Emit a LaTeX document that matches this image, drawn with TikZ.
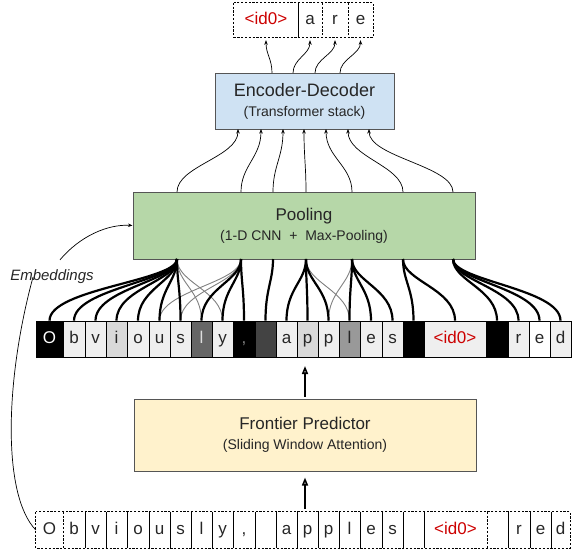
\documentclass[tikz,border=0pt]{standalone}
\usepackage{fontspec}
\setmainfont{Liberation Sans}
\usetikzlibrary{arrows.meta,calc}
\definecolor{edfill}{HTML}{CFE2F3}
\definecolor{poolfill}{HTML}{B6D7A8}
\definecolor{fpfill}{HTML}{FFF2CC}
\definecolor{idred}{HTML}{CC0000}
\definecolor{lightc}{HTML}{EFEFEF}
\definecolor{midc}{HTML}{D9D9D9}
\definecolor{darkone}{HTML}{666666}
\definecolor{darktwo}{HTML}{434343}
\definecolor{midtwo}{HTML}{999999}
\definecolor{paleg}{HTML}{DDDDDD}
\definecolor{boxline}{HTML}{555555}
\definecolor{txt}{HTML}{262626}
\definecolor{thingray}{HTML}{808080}
\begin{document}
\begin{tikzpicture}[x=1pt,y=-1pt,
  bigbox/.style={draw=boxline, line width=1pt, inner sep=0pt, align=center, text=txt, font=\fontsize{14}{20}\selectfont},
  tokfont/.style={font=\fontsize{17}{17}\selectfont, text height=12pt, text depth=3pt},
  tokcell/.style={draw=black, line width=0.7pt, inner sep=0pt, minimum height=36pt, tokfont},
  plaincell/.style={inner sep=0pt, minimum height=36pt, tokfont, text=txt},
  fan/.style={line width=2.2pt, black},
  thinfan/.style={line width=0.9pt, thingray},
  uparrow/.style={line width=0.7pt, black, -{Stealth[length=4.5pt,width=3.5pt]}},
  bigarrow/.style={line width=2pt, black, -{Triangle[open,length=8pt,width=6pt,line width=1.6pt]}},
  dashline/.style={dash pattern=on 2.2pt off 1.6pt, line width=0.8pt, black},
  solidline/.style={line width=0.7pt, black}]
\useasboundingbox (0,0) rectangle (574,550);

% ---------- main boxes ----------
\node[bigbox, fill=edfill, minimum width=179pt, minimum height=56pt] (ed) at (304.5,101)
  {{\fontsize{18}{20}\selectfont Encoder-Decoder}\\(Transformer stack)};
\node[bigbox, fill=poolfill, minimum width=342pt, minimum height=67pt] (pool) at (304,225.5)
  {{\fontsize{17}{20}\selectfont Pooling}\\(1-D CNN \ + \ Max-Pooling)};
\node[bigbox, fill=fpfill, minimum width=342pt, minimum height=72pt] (fp) at (305,435)
  {{\fontsize{17}{20}\selectfont Frontier Predictor}\\(Sliding Window Attention)};

% ---------- output row ----------
\foreach \n/\xa/\xb/\tc/\tx in {1/234/298/idred/{<id0>},2/298/322/txt/a,3/322/348/txt/r,4/348/373/txt/e}{
  \node[plaincell, minimum height=34pt, minimum width={(\xb-\xa)*1pt}, text=\tc] (o\n) at ({(\xa+\xb)/2},20) {\tx};
}
\draw[dashline] (o1.north west) rectangle (o4.south east);
\draw[solidline] (o1.north east) -- (o1.south east);
\draw[dashline] (o2.north east) -- (o2.south east);
\draw[dashline] (o3.north east) -- (o3.south east);

% ---------- token row (embeddings) ----------
\foreach \n/\xa/\xb/\fc/\tc/\tx in {
  1/36/63/black/white/O, 2/63/85/lightc/txt/b, 3/85/106/lightc/txt/v, 4/106/127/midc/txt/i,
  5/127/149/lightc/txt/o, 6/149/170/lightc/txt/u, 7/170/191/lightc/txt/s, 8/191/212/darkone/paleg/l,
  9/212/233/lightc/txt/y, 10/233/255/black/thingray/{,}, 11/255/276/darktwo/txt/{}, 12/276/297/lightc/txt/a,
  13/297/318/midc/txt/p, 14/318/339/lightc/txt/p, 15/339/360/midtwo/txt/l, 16/360/382/lightc/txt/e,
  17/382/403/lightc/txt/s, 18/403/424/black/txt/{}, 19/424/486/lightc/idred/{<id0>}, 20/486/508/black/txt/{},
  21/508/529/lightc/txt/r, 22/529/550/white/txt/e, 23/550/571/lightc/txt/d}{
  \node[tokcell, fill=\fc, text=\tc, minimum width={(\xb-\xa)*1pt}] (t\n) at ({(\xa+\xb)/2},339) {\tx};
}

% ---------- input row ----------
\foreach \n/\xa/\xb/\tc/\tx in {
  1/36/63/txt/O, 2/63/85/txt/b, 3/85/106/txt/v, 4/106/127/txt/i,
  5/127/149/txt/o, 6/149/170/txt/u, 7/170/191/txt/s, 8/191/212/txt/l,
  9/212/233/txt/y, 10/233/255/txt/{,}, 11/255/276/txt/{}, 12/276/297/txt/a,
  13/297/318/txt/p, 14/318/339/txt/p, 15/339/360/txt/l, 16/360/382/txt/e,
  17/382/403/txt/s, 18/403/424/txt/{}, 19/424/487/idred/{<id0>}, 20/487/508/txt/{},
  21/508/530/txt/r, 22/530/551/txt/e, 23/551/570/txt/d}{
  \node[plaincell, text=\tc, minimum width={(\xb-\xa)*1pt}] (b\n) at ({(\xa+\xb)/2},530) {\tx};
}
\draw[dashline] (b1.north west) rectangle (b23.south east);
\foreach \n in {2,...,18,20,21,22}{
  \draw[solidline] (b\n.north east) -- (b\n.south east);
}
\draw[dashline] (b1.north east) -- (b1.south east);
\draw[dashline] (b19.north east) -- (b19.south east);

% ---------- coordinates on the pooling box ----------
\foreach \i/\sx in {1/177,2/241,3/273,4/306,5/352,6/403,7/453}{
  \coordinate (s\i) at (\sx,259);
  \coordinate (u\i) at (\sx,192);
}
\foreach \i/\ex in {1/238,2/261,3/283,4/304,5/326,6/348,7/369}{
  \coordinate (e\i) at (\ex,129);
}
\foreach \i/\dx in {1/272,2/293,3/315,4/340}{
  \coordinate (d\i) at (\dx,73);
}

% ---------- pooling fan-in ----------
\foreach \s/\t in {1/8,1/9,2/6,2/7,4/15,5/14}{
  \draw[thinfan] (s\s) .. controls +(0,24) and +(0,-30) .. (t\t.north);
}
\foreach \s/\t in {1/1,1/2,1/3,1/4,1/5,1/6,1/7,2/8,2/9,2/10,3/11,4/12,4/13,4/14,
                   5/15,5/16,5/17,6/18,6/19,7/20,7/21,7/22,7/23}{
  \draw[fan] (s\s) .. controls +(0,22) and +(0,-32) .. (t\t.north);
}

% ---------- pooling to encoder-decoder ----------
\foreach \i in {1,...,7}{
  \draw[uparrow] (u\i) .. controls +(0,-26) and +(0,28) .. (e\i);
}

% ---------- encoder-decoder to output ----------
\foreach \i in {1,...,4}{
  \draw[uparrow] (d\i) .. controls +(0,-14) and +(0,14) .. ([yshift=-3pt]o\i.south);
}

% ---------- big arrows ----------
\coordinate (fa) at (305,366);
\coordinate (ba) at (305,509);
\draw[bigarrow] ([yshift=2pt]fp.north) -- (fa);
\draw[bigarrow] (ba) -- ([yshift=-6pt]fp.south);

% ---------- embeddings label ----------
\node[font=\fontsize{15}{15}\selectfont\itshape, text=txt, inner sep=1pt] (emb) at (52,277) {Embeddings};
\draw[line width=0.7pt, -{Stealth[length=4.5pt,width=3.5pt]}] ([shift={(8,-9)}]emb.north) .. controls (80,236) and (108,224) .. (pool.west);
\draw[line width=0.7pt] ([shift={(-19,-8)}]emb.south) .. controls (5,380) and (2,495) .. (b1.west);
\end{tikzpicture}
\end{document}
